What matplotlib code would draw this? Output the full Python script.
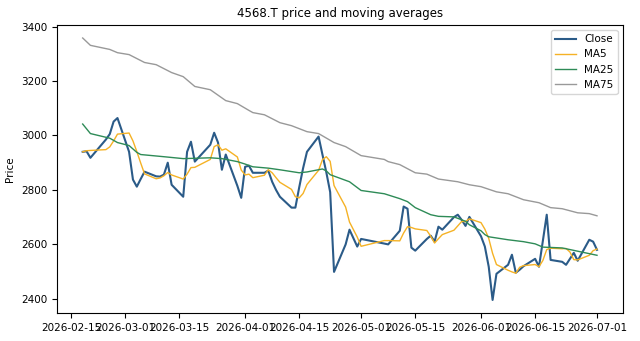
import matplotlib
matplotlib.use('Agg')
import matplotlib.pyplot as plt
import matplotlib.dates as mdates
import pandas as pd

# trading days shown (JPX calendar)
dates = pd.to_datetime([
    "2026-02-18", "2026-02-19", "2026-02-20", "2026-02-24", "2026-02-25", "2026-02-26", "2026-02-27",
    "2026-03-02", "2026-03-03", "2026-03-04", "2026-03-05", "2026-03-06",
    "2026-03-09", "2026-03-10", "2026-03-11", "2026-03-12", "2026-03-13",
    "2026-03-16", "2026-03-17", "2026-03-18", "2026-03-19",
    "2026-03-23", "2026-03-24", "2026-03-25", "2026-03-26", "2026-03-27",
    "2026-03-30", "2026-03-31", "2026-04-01", "2026-04-02", "2026-04-03",
    "2026-04-06", "2026-04-07", "2026-04-08", "2026-04-09", "2026-04-10",
    "2026-04-13", "2026-04-14", "2026-04-15", "2026-04-16", "2026-04-17",
    "2026-04-20", "2026-04-21", "2026-04-22", "2026-04-23", "2026-04-24",
    "2026-04-27", "2026-04-28", "2026-04-30", "2026-05-01",
    "2026-05-07", "2026-05-08",
    "2026-05-11", "2026-05-12", "2026-05-13", "2026-05-14", "2026-05-15",
    "2026-05-18", "2026-05-19", "2026-05-20", "2026-05-21", "2026-05-22",
    "2026-05-25", "2026-05-26", "2026-05-27", "2026-05-28", "2026-05-29",
    "2026-06-01", "2026-06-02", "2026-06-03", "2026-06-04", "2026-06-05",
    "2026-06-08", "2026-06-09", "2026-06-10", "2026-06-11", "2026-06-12",
    "2026-06-15", "2026-06-16", "2026-06-17", "2026-06-18", "2026-06-19",
    "2026-06-22", "2026-06-23", "2026-06-24", "2026-06-25", "2026-06-26",
    "2026-06-29", "2026-06-30", "2026-07-01",
])

close = [
    2940, 2942, 2918, 2985, 3005, 3051, 3064,
    2940, 2838, 2812, 2840, 2867,
    2850, 2849, 2856, 2900, 2819,
    2775, 2940, 2977, 2904,
    2966, 3010, 2974, 2874, 2930,
    2815, 2771, 2885, 2889, 2863,
    2863, 2871, 2830, 2800, 2775,
    2735, 2735, 2810, 2880, 2940,
    2996, 2930, 2865, 2792, 2499,
    2600, 2654, 2592, 2620,
    2603, 2600,
    2650, 2739, 2731, 2588, 2577,
    2620, 2632, 2610, 2665, 2654,
    2700, 2709, 2690, 2668, 2701,
    2630, 2592, 2518, 2396, 2492,
    2525, 2562, 2496, 2507, 2520,
    2547, 2518, 2613, 2709, 2543,
    2536, 2525, 2547, 2569, 2540,
    2617, 2610, 2580,
]

ma5 = [
    2940, 2944, 2945, 2948, 2958, 2980, 3005,
    3009, 2980, 2941, 2899, 2859,
    2841, 2844, 2852, 2864, 2855,
    2840, 2858, 2882, 2883,
    2912, 2959, 2966, 2946, 2951,
    2921, 2873, 2855, 2858, 2845,
    2854, 2874, 2863, 2845, 2828,
    2802, 2775, 2771, 2787, 2820,
    2872, 2911, 2922, 2905, 2816,
    2737, 2682, 2627, 2593,
    2614, 2614,
    2613, 2642, 2665, 2662, 2657,
    2651, 2630, 2605, 2621, 2636,
    2652, 2668, 2684, 2684, 2694,
    2680, 2656, 2622, 2567, 2526,
    2505, 2499, 2494, 2516, 2522,
    2526, 2518, 2541, 2581, 2586,
    2584, 2585, 2572, 2544, 2543,
    2560, 2577, 2583,
]

ma25_dates = pd.to_datetime([
    "2026-02-18", "2026-02-20", "2026-02-25", "2026-02-27", "2026-03-02", "2026-03-04",
    "2026-03-05", "2026-03-11", "2026-03-16", "2026-03-23", "2026-03-26", "2026-03-30",
    "2026-04-01", "2026-04-03", "2026-04-07", "2026-04-10", "2026-04-15", "2026-04-17",
    "2026-04-21", "2026-04-22", "2026-04-23", "2026-04-28", "2026-05-01", "2026-05-07",
    "2026-05-11", "2026-05-13", "2026-05-15", "2026-05-19", "2026-05-21", "2026-05-25",
    "2026-05-28", "2026-05-29", "2026-06-01", "2026-06-02", "2026-06-03", "2026-06-08",
    "2026-06-12", "2026-06-15", "2026-06-17", "2026-06-22", "2026-06-25", "2026-07-01",
])
ma25 = [
    3042, 3007, 2990, 2974, 2963, 2938,
    2930, 2922, 2915, 2918, 2915, 2904,
    2895, 2885, 2880, 2874, 2863, 2866,
    2877, 2870, 2856, 2830, 2798, 2786,
    2768, 2757, 2735, 2709, 2703, 2701,
    2685, 2672, 2650, 2636, 2628, 2617,
    2610, 2602, 2590, 2587, 2578, 2560,
]

ma75_dates = pd.to_datetime([
    "2026-02-18", "2026-02-20", "2026-02-25", "2026-02-27", "2026-03-02", "2026-03-06",
    "2026-03-09", "2026-03-13", "2026-03-16", "2026-03-19", "2026-03-23", "2026-03-27",
    "2026-03-30", "2026-04-02", "2026-04-03", "2026-04-06", "2026-04-10", "2026-04-13",
    "2026-04-17", "2026-04-20", "2026-04-24", "2026-04-27", "2026-05-01", "2026-05-07",
    "2026-05-08", "2026-05-11", "2026-05-15", "2026-05-18", "2026-05-21", "2026-05-26",
    "2026-05-29", "2026-06-01", "2026-06-05", "2026-06-08", "2026-06-12", "2026-06-16",
    "2026-06-19", "2026-06-22", "2026-06-26", "2026-06-29", "2026-07-01",
])
ma75 = [
    3358, 3331, 3316, 3304, 3297, 3268,
    3260, 3231, 3216, 3180, 3168, 3128,
    3117, 3092, 3084, 3076, 3047, 3036,
    3014, 3007, 2974, 2959, 2926, 2912,
    2904, 2893, 2863, 2858, 2840, 2830,
    2819, 2812, 2793, 2786, 2764, 2753,
    2735, 2731, 2716, 2713, 2705,
]

fig, ax = plt.subplots(figsize=(6.4, 3.41), dpi=100)
ax.plot(dates, close, color='#2b5b88', lw=1.5, label='Close')
ax.plot(dates, ma5, color='#f5b225', lw=1.0, label='MA5')
ax.plot(ma25_dates, ma25, color='#2e8b57', lw=1.0, label='MA25')
ax.plot(ma75_dates, ma75, color='#999999', lw=1.0, label='MA75')

ax.set_title("4568.T price and moving averages", fontsize=8.5)
ax.set_ylabel("Price", fontsize=7.5)
ax.xaxis.set_major_locator(mdates.DayLocator(bymonthday=[1, 15]))
ax.xaxis.set_major_formatter(mdates.DateFormatter('%Y-%m-%d'))
ax.set_yticks([2400, 2600, 2800, 3000, 3200, 3400])
ax.tick_params(labelsize=7.5)
ax.legend(loc='upper right', fontsize=7.5)

fig.subplots_adjust(left=0.089, right=0.973, top=0.927, bottom=0.082)
plt.savefig('out.png')
plt.close()
